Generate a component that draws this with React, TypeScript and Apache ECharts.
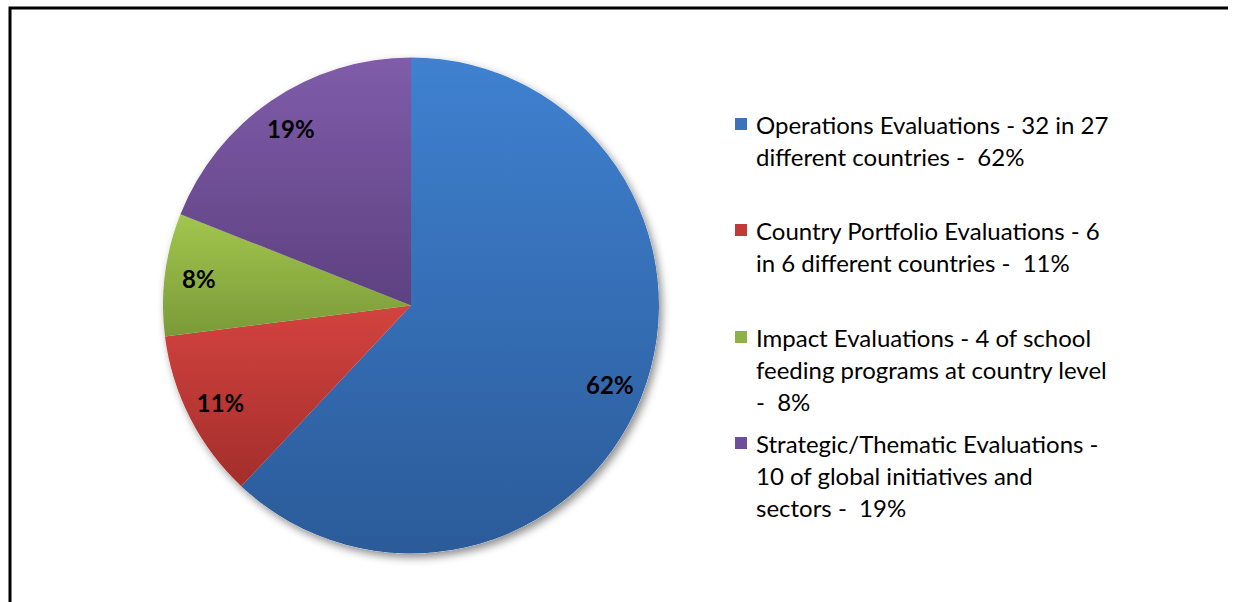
import React, { useEffect, useRef } from "react";
import * as echarts from "echarts";

const categories = [
  "Operations Evaluations",
  "Country Portfolio Evaluations",
  "Impact Evaluations",
  "Strategic/Thematic Evaluations",
];
const shares = [62, 11, 8, 19];
const legendLines = [
  ["Operations Evaluations - 32 in 27", "different countries -  62%"],
  ["Country Portfolio Evaluations - 6", "in 6 different countries -  11%"],
  ["Impact Evaluations - 4 of school", "feeding programs at country level", "-  8%"],
  ["Strategic/Thematic Evaluations -", "10 of global initiatives and", "sectors -  19%"],
];
const topColors = ["#3F81D0", "#D3433F", "#A2C64E", "#805CAA"];
const bottomColors = ["#2B5B99", "#A32E2B", "#7A9A38", "#5D4180"];
const swatchColors = ["#3A72BC", "#C23A37", "#8FB245", "#6E4E98"];
const legendTops = [112, 218, 325, 431];

const FONT = "Lato, 'Open Sans', sans-serif";

export default function App() {
  const ref = useRef<HTMLDivElement>(null);
  useEffect(() => {
    if (!ref.current) return;
    const chart = echarts.init(ref.current, undefined, { renderer: "svg" });
    const center = [411, 305.5];
    const R = 248;
    const baseData = shares.map((v, i) => ({ name: categories[i], value: v }));

    const legends = categories.map((name, idx) => ({
      data: [name],
      left: 730,
      top: legendTops[idx],
      orient: "vertical",
      icon: "none",
      itemWidth: 0,
      itemHeight: 0,
      padding: 0,
      selectedMode: false,
      formatter: () =>
        legendLines[idx]
          .map((l, i) => (i === 0 ? `{sq|}{gap|}{t|${l}}` : `{ind|}{t|${l}}`))
          .join("\n"),
      textStyle: {
        rich: {
          sq: { width: 12, height: 12, backgroundColor: swatchColors[idx], lineHeight: 32 },
          gap: { width: 9, lineHeight: 32 },
          ind: { width: 21, lineHeight: 32 },
          t: { fontSize: 24, fontFamily: FONT, color: "#000", lineHeight: 32 },
        },
      },
    }));

    chart.setOption({
      animation: false,
      backgroundColor: "#fff",
      legend: legends,
      graphic: [
        {
          type: "polyline",
          shape: { points: [[10, 602], [10, 8], [1228, 8]] },
          style: { stroke: "#000", lineWidth: 3, fill: null },
          silent: true,
        },
      ],
      series: [
        {
          type: "pie",
          z: 1,
          silent: true,
          center,
          radius: [0, R],
          startAngle: 90,
          data: baseData,
          itemStyle: {
            color: "#ffffff",
            shadowBlur: 8,
            shadowOffsetX: 3,
            shadowOffsetY: 4,
            shadowColor: "rgba(0,0,0,0.45)",
          },
          label: { show: false },
          labelLine: { show: false },
          emphasis: { disabled: true },
        },
        {
          type: "pie",
          z: 2,
          center,
          radius: [0, R],
          startAngle: 90,
          data: shares.map((v, i) => ({
            name: categories[i],
            value: v,
            itemStyle: {
              color: {
                type: "linear",
                x: 0,
                y: 0,
                x2: 0,
                y2: 1,
                colorStops: [
                  { offset: 0, color: topColors[i] },
                  { offset: 1, color: bottomColors[i] },
                ],
              },
            },
          })),
          itemStyle: { borderWidth: 0 },
          label: { show: false },
          labelLine: { show: false },
          emphasis: { disabled: true },
        },
        {
          type: "pie",
          z: 3,
          silent: true,
          center,
          radius: [R * 0.7, R],
          startAngle: 90,
          data: baseData,
          itemStyle: { color: "rgba(0,0,0,0)" },
          label: {
            show: true,
            position: "inside",
            formatter: (p: any) => `${p.value}%`,
            fontFamily: FONT,
            fontWeight: "bold",
            fontSize: 24,
            color: "#000",
          },
          labelLine: { show: false },
          emphasis: { disabled: true },
        },
      ],
    });
    return () => chart.dispose();
  }, []);
  return (
    <div
      ref={ref}
      style={{ position: "fixed", left: 0, top: 0, width: 1233, height: 602 }}
    />
  );
}
